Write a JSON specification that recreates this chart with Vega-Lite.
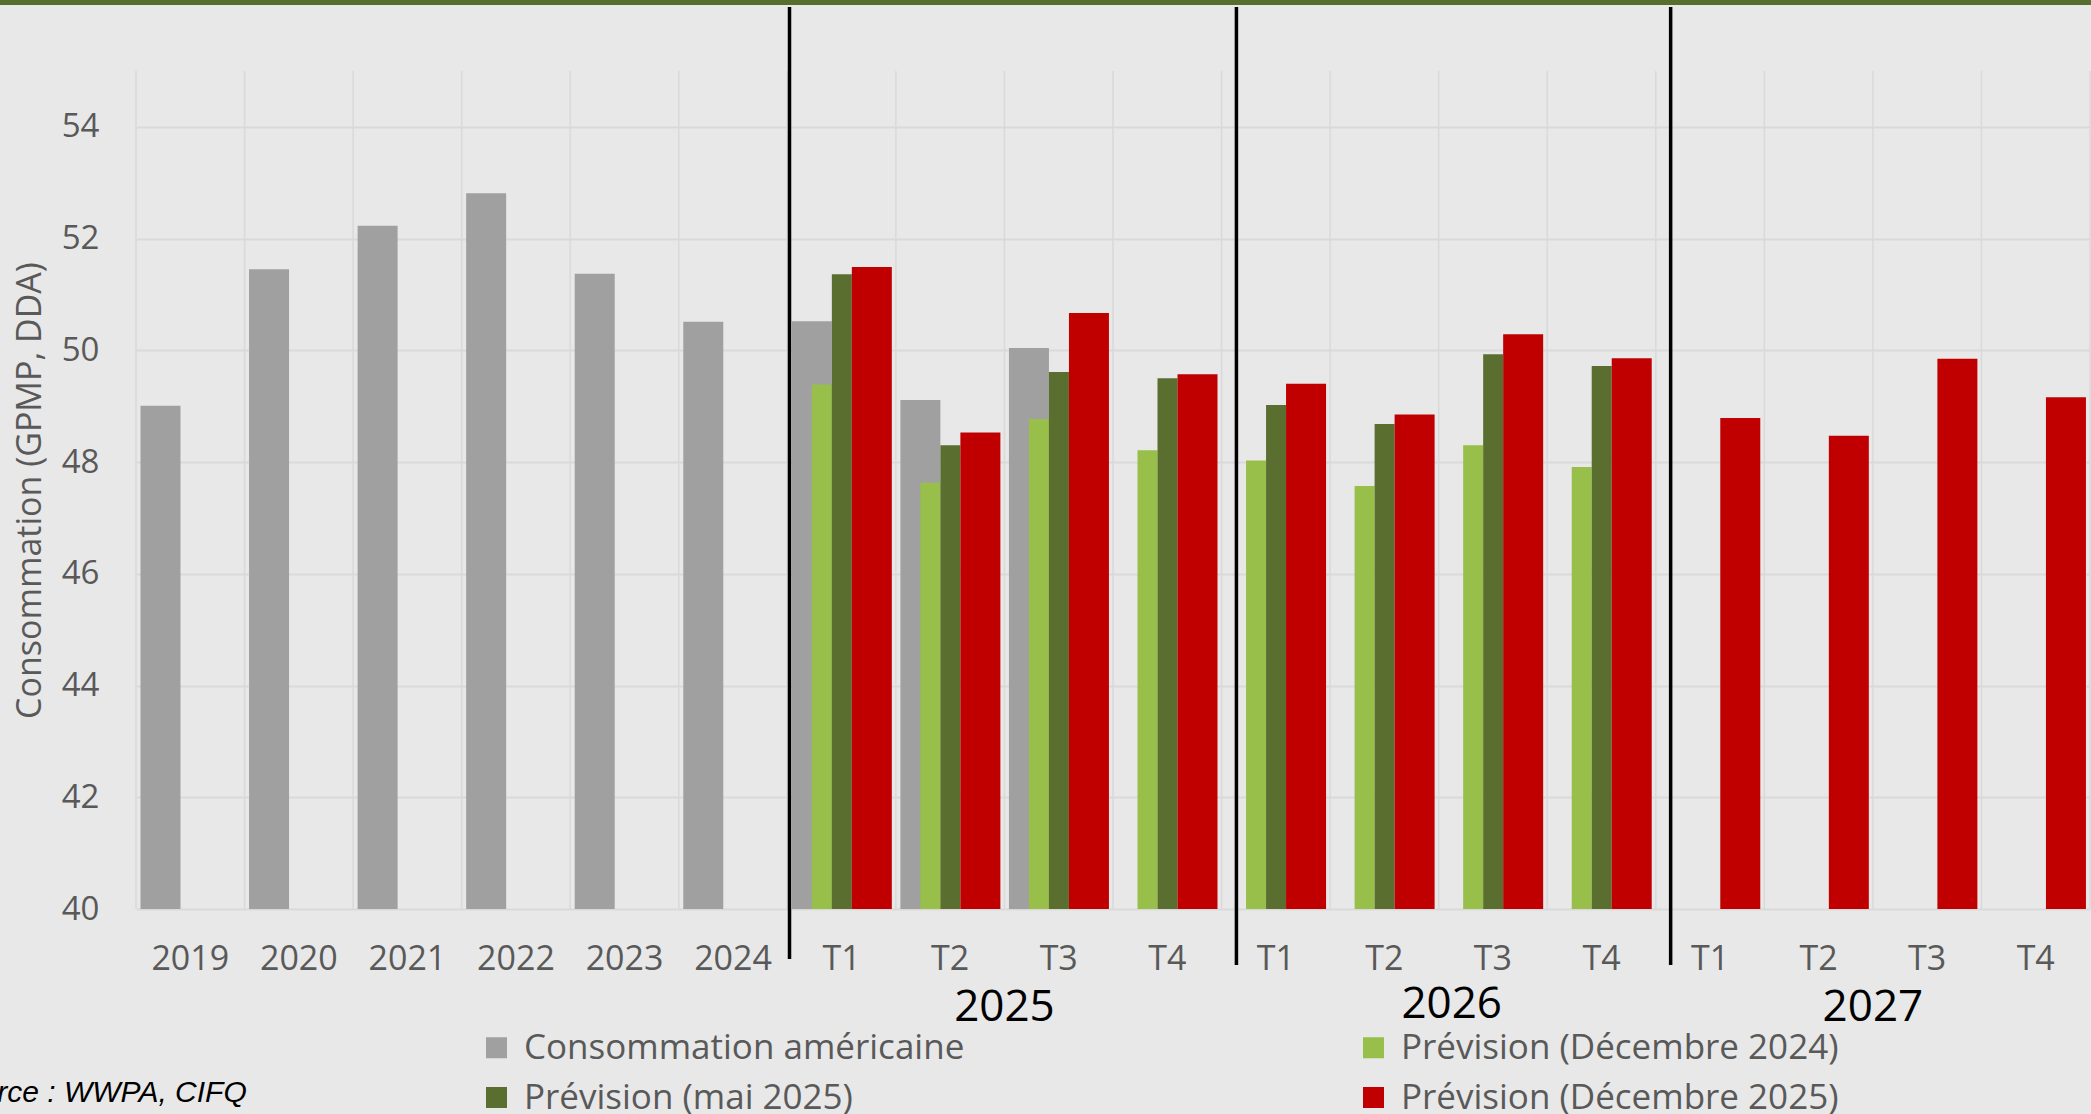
{
  "$schema": "https://vega.github.io/schema/vega-lite/v6.json",
  "width": 1954,
  "height": 838,
  "autosize": {"type": "none"},
  "padding": {"left": 136, "top": 71, "right": 1, "bottom": 205},
  "background": "#e8e8e8",
  "config": {"view": {"stroke": null}, "font": "Open Sans"},
  "datasets": {
    "bars": [
      {"cat": "2019", "series": "Consommation américaine", "value": 49.01},
      {"cat": "2020", "series": "Consommation américaine", "value": 51.45},
      {"cat": "2021", "series": "Consommation américaine", "value": 52.23},
      {"cat": "2022", "series": "Consommation américaine", "value": 52.81},
      {"cat": "2023", "series": "Consommation américaine", "value": 51.37},
      {"cat": "2024", "series": "Consommation américaine", "value": 50.51},
      {"cat": "2025 T1", "series": "Consommation américaine", "value": 50.52},
      {"cat": "2025 T2", "series": "Consommation américaine", "value": 49.11},
      {"cat": "2025 T3", "series": "Consommation américaine", "value": 50.04},
      {"cat": "2025 T1", "series": "Prévision (Décembre 2024)", "value": 49.39},
      {"cat": "2025 T2", "series": "Prévision (Décembre 2024)", "value": 47.63},
      {"cat": "2025 T3", "series": "Prévision (Décembre 2024)", "value": 48.77},
      {"cat": "2025 T4", "series": "Prévision (Décembre 2024)", "value": 48.21},
      {"cat": "2026 T1", "series": "Prévision (Décembre 2024)", "value": 48.03},
      {"cat": "2026 T2", "series": "Prévision (Décembre 2024)", "value": 47.57},
      {"cat": "2026 T3", "series": "Prévision (Décembre 2024)", "value": 48.30},
      {"cat": "2026 T4", "series": "Prévision (Décembre 2024)", "value": 47.91},
      {"cat": "2025 T1", "series": "Prévision (mai 2025)", "value": 51.36},
      {"cat": "2025 T2", "series": "Prévision (mai 2025)", "value": 48.30},
      {"cat": "2025 T3", "series": "Prévision (mai 2025)", "value": 49.61},
      {"cat": "2025 T4", "series": "Prévision (mai 2025)", "value": 49.50},
      {"cat": "2026 T1", "series": "Prévision (mai 2025)", "value": 49.02},
      {"cat": "2026 T2", "series": "Prévision (mai 2025)", "value": 48.68},
      {"cat": "2026 T3", "series": "Prévision (mai 2025)", "value": 49.93},
      {"cat": "2026 T4", "series": "Prévision (mai 2025)", "value": 49.72},
      {"cat": "2025 T1", "series": "Prévision (Décembre 2025)", "value": 51.49},
      {"cat": "2025 T2", "series": "Prévision (Décembre 2025)", "value": 48.53},
      {"cat": "2025 T3", "series": "Prévision (Décembre 2025)", "value": 50.67},
      {"cat": "2025 T4", "series": "Prévision (Décembre 2025)", "value": 49.57},
      {"cat": "2026 T1", "series": "Prévision (Décembre 2025)", "value": 49.40},
      {"cat": "2026 T2", "series": "Prévision (Décembre 2025)", "value": 48.85},
      {"cat": "2026 T3", "series": "Prévision (Décembre 2025)", "value": 50.29},
      {"cat": "2026 T4", "series": "Prévision (Décembre 2025)", "value": 49.86},
      {"cat": "2027 T1", "series": "Prévision (Décembre 2025)", "value": 48.79},
      {"cat": "2027 T2", "series": "Prévision (Décembre 2025)", "value": 48.47},
      {"cat": "2027 T3", "series": "Prévision (Décembre 2025)", "value": 49.85},
      {"cat": "2027 T4", "series": "Prévision (Décembre 2025)", "value": 49.16}
    ],
    "cats": [
      {"cat": "2019"}, {"cat": "2020"}, {"cat": "2021"}, {"cat": "2022"}, {"cat": "2023"}, {"cat": "2024"},
      {"cat": "2025 T1"}, {"cat": "2025 T2"}, {"cat": "2025 T3"}, {"cat": "2025 T4"},
      {"cat": "2026 T1"}, {"cat": "2026 T2"}, {"cat": "2026 T3"}, {"cat": "2026 T4"},
      {"cat": "2027 T1"}, {"cat": "2027 T2"}, {"cat": "2027 T3"}, {"cat": "2027 T4"}
    ],
    "edge": [{"cat": "2027 T4"}],
    "seps": [{"cat": "2025 T1"}, {"cat": "2026 T1"}, {"cat": "2027 T1"}],
    "groups": [
      {"cat": "2025 T3", "label": "2025"},
      {"cat": "2026 T3", "label": "2026"},
      {"cat": "2027 T3", "label": "2027"}
    ],
    "src": [{"cat": "2020", "label": "Source : WWPA, CIFQ"}],
    "banner": [{"k": 1}]
  },
  "layer": [
    {
      "layer": [
        {
          "data": {"name": "cats"},
          "mark": {"type": "rule", "color": "#d9d9d9", "strokeWidth": 1.5},
          "encoding": {
            "x": {
              "field": "cat", "type": "nominal", "bandPosition": 0,
              "scale": {"domain": ["2019","2020","2021","2022","2023","2024","2025 T1","2025 T2","2025 T3","2025 T4","2026 T1","2026 T2","2026 T3","2026 T4","2027 T1","2027 T2","2027 T3","2027 T4"], "paddingInner": 0, "paddingOuter": 0},
              "axis": {
                "title": null, "domain": false, "ticks": false, "tickSize": 0, "grid": false,
                "labelAngle": 0, "labelFontSize": 34, "labelColor": "#595959", "labelPadding": 33,
                "labelExpr": "indexof(datum.label, ' ') > 0 ? substring(datum.label, indexof(datum.label, ' ') + 1) : datum.label"
              }
            },
            "y": {"datum": 40, "type": "quantitative"},
            "y2": {"datum": 55}
          }
        },
        {
          "data": {"name": "edge"},
          "mark": {"type": "rule", "color": "#d9d9d9", "strokeWidth": 1.5},
          "encoding": {
            "x": {"field": "cat", "type": "nominal", "bandPosition": 1},
            "y": {"datum": 40, "type": "quantitative"},
            "y2": {"datum": 55}
          }
        },
        {
          "data": {"name": "bars"},
          "transform": [{"filter": "datum.series == 'Consommation américaine'"}],
          "mark": {"type": "bar", "clip": true},
          "encoding": {
            "x": {"field": "cat", "type": "nominal", "bandPosition": 0.04145},
            "x2": {"field": "cat", "bandPosition": 0.40993},
            "y": {
              "field": "value", "type": "quantitative",
              "scale": {"domain": [40, 55], "nice": false, "zero": false, "padding": 0},
              "axis": {
                "title": "Consommation (GPMP, DDA)", "values": [40, 42, 44, 46, 48, 50, 52, 54],
                "domain": false, "ticks": false, "tickSize": 0, "grid": true, "gridColor": "#d9d9d9", "gridWidth": 2,
                "labelFontSize": 33, "labelColor": "#595959", "labelPadding": 37,
                "titleFontSize": 34, "titleColor": "#595959", "titleFontWeight": "normal", "titlePadding": 14
              }
            },
            "y2": {"datum": 40},
            "color": {
              "field": "series", "type": "nominal",
              "scale": {"domain": ["Consommation américaine", "Prévision (Décembre 2024)", "Prévision (mai 2025)", "Prévision (Décembre 2025)"], "range": ["#a0a0a0", "#97bf4a", "#5a6f2f", "#c00000"]},
              "legend": {
                "title": null, "orient": "none", "direction": "horizontal", "legendX": 343, "legendY": 959, "columns": 2, "columnPadding": 391, "rowPadding": 14,
                "symbolType": "square", "symbolSize": 441, "symbolStrokeWidth": 0, "symbolOpacity": 1,
                "labelFontSize": 35, "labelColor": "#595959", "labelOffset": 10, "labelLimit": 900
              }
            }
          }
        },
        {
          "data": {"name": "bars"},
          "transform": [{"filter": "datum.series == 'Prévision (Décembre 2024)'"}],
          "mark": {"type": "bar", "clip": true},
          "encoding": {
            "x": {"field": "cat", "type": "nominal", "bandPosition": 0.22569},
            "x2": {"field": "cat", "bandPosition": 0.40993},
            "y": {"field": "value", "type": "quantitative"},
            "y2": {"datum": 40},
            "color": {"field": "series", "type": "nominal"}
          }
        },
        {
          "data": {"name": "bars"},
          "transform": [{"filter": "datum.series == 'Prévision (mai 2025)'"}],
          "mark": {"type": "bar", "clip": true},
          "encoding": {
            "x": {"field": "cat", "type": "nominal", "bandPosition": 0.40993},
            "x2": {"field": "cat", "bandPosition": 0.59416},
            "y": {"field": "value", "type": "quantitative"},
            "y2": {"datum": 40},
            "color": {"field": "series", "type": "nominal"}
          }
        },
        {
          "data": {"name": "bars"},
          "transform": [{"filter": "datum.series == 'Prévision (Décembre 2025)'"}],
          "mark": {"type": "bar", "clip": true},
          "encoding": {
            "x": {"field": "cat", "type": "nominal", "bandPosition": 0.59416},
            "x2": {"field": "cat", "bandPosition": 0.96264},
            "y": {"field": "value", "type": "quantitative"},
            "y2": {"datum": 40},
            "color": {"field": "series", "type": "nominal"}
          }
        },
        {
          "data": {"name": "seps"},
          "transform": [{"filter": "datum.cat == '2025 T1'"}],
          "mark": {"type": "rule", "color": "#000000", "strokeWidth": 3.5},
          "encoding": {
            "x": {"field": "cat", "type": "nominal", "bandPosition": 0.02},
            "y": {"datum": 56.145, "type": "quantitative"},
            "y2": {"datum": 39.105}
          }
        },
        {
          "data": {"name": "seps"},
          "transform": [{"filter": "datum.cat != '2025 T1'"}],
          "mark": {"type": "rule", "color": "#000000", "strokeWidth": 3.5},
          "encoding": {
            "x": {"field": "cat", "type": "nominal", "bandPosition": 0.137},
            "y": {"datum": 56.145, "type": "quantitative"},
            "y2": {"datum": 38.998}
          }
        },
        {
          "data": {"name": "groups"},
          "transform": [{"filter": "datum.label != '2026'"}],
          "mark": {"type": "text", "fontSize": 44, "color": "#000000", "align": "center", "baseline": "alphabetic"},
          "encoding": {
            "x": {"field": "cat", "type": "nominal", "bandPosition": 0},
            "y": {"datum": 37.995, "type": "quantitative"},
            "text": {"field": "label"}
          }
        },
        {
          "data": {"name": "groups"},
          "transform": [{"filter": "datum.label == '2026'"}],
          "mark": {"type": "text", "fontSize": 44, "color": "#000000", "align": "center", "baseline": "alphabetic"},
          "encoding": {
            "x": {"field": "cat", "type": "nominal", "bandPosition": 0.12},
            "y": {"datum": 38.05, "type": "quantitative"},
            "text": {"field": "label"}
          }
        },
        {
          "data": {"name": "src"},
          "mark": {"type": "text", "fontSize": 30, "fontStyle": "italic", "color": "#000000", "align": "right", "baseline": "alphabetic", "font": "Liberation Sans"},
          "encoding": {
            "x": {"field": "cat", "type": "nominal", "bandPosition": 0.02},
            "y": {"datum": 36.55, "type": "quantitative"},
            "text": {"field": "label"}
          }
        }
      ]
    },
    {
      "data": {"name": "banner"},
      "mark": {"type": "rule", "color": "#566e2e", "strokeWidth": 5},
      "encoding": {
        "x": {"datum": -0.0697, "type": "quantitative", "scale": {"domain": [0, 1]}, "axis": null},
        "x2": {"datum": 1.0005},
        "y": {"datum": 56.226, "type": "quantitative"}
      }
    }
  ],
  "resolve": {"scale": {"x": "independent"}}
}
